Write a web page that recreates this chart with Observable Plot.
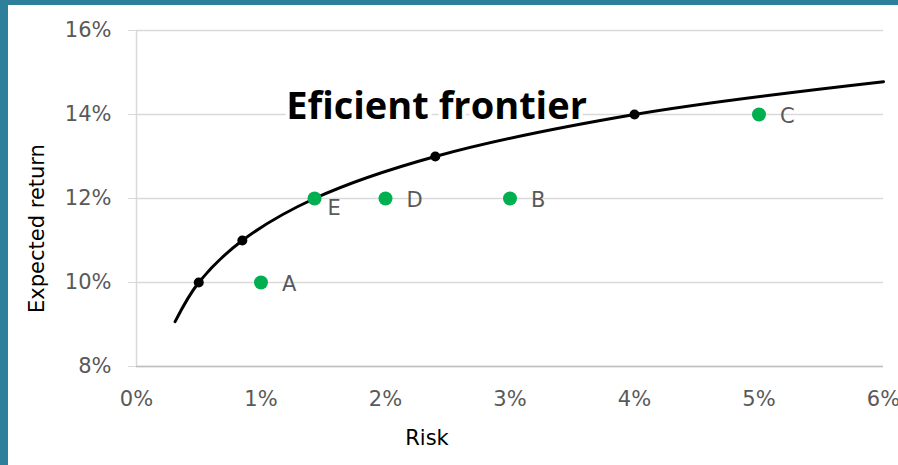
<!DOCTYPE html>
<html>
<head>
<meta charset="utf-8">
<script src="https://cdn.jsdelivr.net/npm/d3@7"></script>
<script src="https://cdn.jsdelivr.net/npm/@observablehq/plot@0.6"></script>
<style>
  html, body { margin: 0; padding: 0; background: #2e7f99; }
  #frame { position: absolute; left: 8px; top: 5px; width: 890px; height: 460px; background: #fff; overflow: hidden; }
</style>
</head>
<body>
<div id="frame"></div>
<script>
// Efficient frontier curve (risk %, expected return %)
const frontierRisk   = [0.31, 0.5, 0.85, 1.43, 2.4, 4.0, 6.0];
const frontierReturn = [9.07, 10, 11, 12, 13, 14, 14.78];

// Marked portfolios lying on the frontier
const markerRisk   = [0.5, 0.85, 1.43, 2.4, 4.0];
const markerReturn = [10, 11, 12, 13, 14];

// Individual portfolios
const portfolioNames  = ["A", "B", "C", "D", "E"];
const portfolioRisk   = [1, 3, 5, 2, 1.43];
const portfolioReturn = [10, 12, 14, 12, 12];

// Axis ticks
const xTicks = [0, 1, 2, 3, 4, 5, 6];
const yTicks = [8, 10, 12, 14, 16];

const titleText = "Eficient frontier";
const titleAt = {x: 2.41, y: 14.18};

const frontier = frontierRisk.map((x, i) => ({x, y: frontierReturn[i]}));
const markers = markerRisk.map((x, i) => ({x, y: markerReturn[i]}));
const portfolios = portfolioNames.map((name, i) => ({name, x: portfolioRisk[i], y: portfolioReturn[i]}));

const pct = d => d + "%";

const chart = Plot.plot({
  width: 890,
  height: 460,
  marginLeft: 128,
  marginRight: 15,
  marginTop: 25,
  marginBottom: 99,
  style: {fontFamily: "'DejaVu Sans', sans-serif", fontSize: "21px", color: "#595959", background: "transparent", overflow: "visible"},
  x: {domain: [0, 6]},
  y: {domain: [8, 16]},
  marks: [
    Plot.gridY(yTicks, {stroke: "#d9d9d9", strokeOpacity: 1, strokeWidth: 1.5}),
    Plot.ruleX([0], {stroke: "#d9d9d9", strokeWidth: 1.5}),
    Plot.ruleY([8], {stroke: "#bfbfbf", strokeWidth: 1.5}),
    Plot.axisY(yTicks, {tickSize: 8, tickPadding: 17, stroke: "#d9d9d9", strokeOpacity: 1, fill: "#595959", tickFormat: pct, label: null}),
    Plot.axisX(xTicks, {tickSize: 0, tickPadding: 25, fill: "#595959", tickFormat: pct, label: null}),
    Plot.text([titleText], {
      x: () => titleAt.x, y: () => titleAt.y, text: d => d,
      fontFamily: "'Open Sans', sans-serif", fontWeight: "bold", fontSize: 38, fill: "black",
      stroke: "white", strokeWidth: 8, lineAnchor: "middle"
    }),
    Plot.line(frontier, {x: "x", y: "y", curve: "catmull-rom", stroke: "black", strokeWidth: 3}),
    Plot.dot(markers, {x: "x", y: "y", r: 5, fill: "black"}),
    Plot.dot(portfolios, {x: "x", y: "y", r: 7, fill: "#00b050"}),
    Plot.text(portfolios.filter(d => d.name !== "E"), {x: "x", y: "y", text: "name", textAnchor: "start", dx: 21, dy: 2, fill: "#595959"}),
    Plot.text(portfolios.filter(d => d.name === "E"), {x: "x", y: "y", text: "name", textAnchor: "start", dx: 13, dy: 10, fill: "#595959"}),
    Plot.text(["Risk"], {frameAnchor: "bottom", textAnchor: "middle", dx: -83, dy: 72, fill: "black", fontSize: 21, lineAnchor: "middle"}),
    Plot.text(["Expected return"], {frameAnchor: "left", textAnchor: "middle", rotate: -90, dx: -99, dy: 30, fill: "black", fontSize: 21, lineAnchor: "middle"})
  ]
});

document.getElementById("frame").appendChild(chart);
</script>
</body>
</html>
